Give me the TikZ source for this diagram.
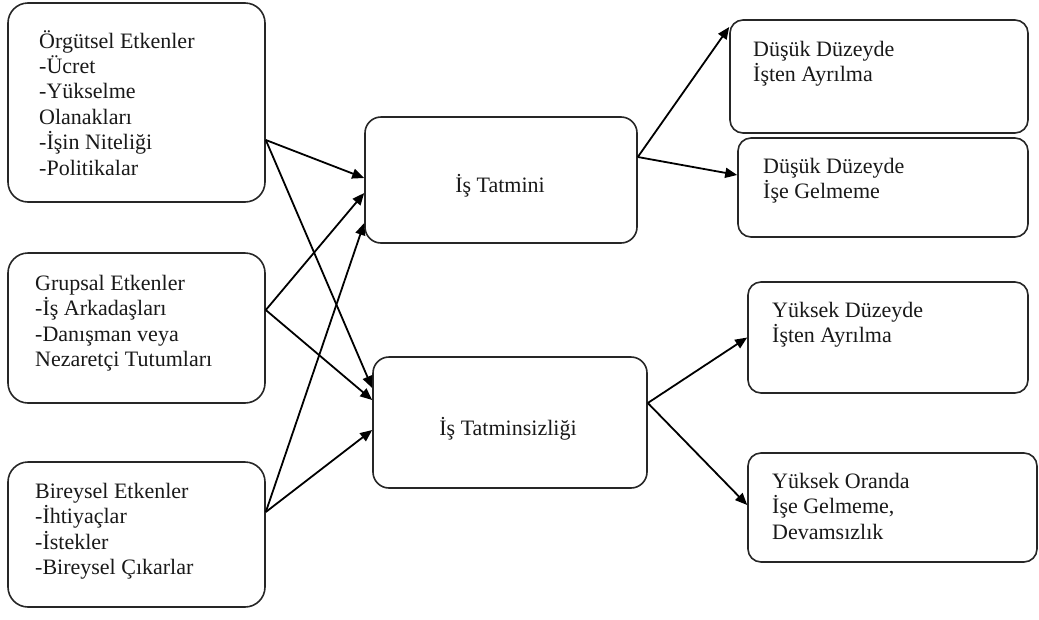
\documentclass[tikz,border=0pt]{standalone}
\usepackage{fontspec}
\setmainfont{Liberation Serif}
\usetikzlibrary{arrows.meta}
\newcommand{\mylines}[1]{\begin{tabular}[t]{@{}l@{}}#1\end{tabular}}
\begin{document}
\begin{tikzpicture}[x=1pt,y=-1pt,
  box/.style={draw=black!85, line width=1.6pt, rounded corners=#1, inner sep=0pt, fill=white},
  lbl/.style={anchor=base west, inner sep=0pt, text=black!90, font=\fontsize{22}{25.3}\selectfont},
  clbl/.style={anchor=base, inner sep=0pt, text=black!90, font=\fontsize{22}{25.3}\selectfont},
  arr/.style={draw=black, line width=1.8pt, -{Triangle[length=12pt,width=10pt]}}]
\useasboundingbox (0,0) rectangle (1039,619);
% left boxes
\node[box=20pt, minimum width=257pt, minimum height=199pt] (A) at (136.5,102.5) {};
\node[box=20pt, minimum width=257pt, minimum height=150pt] (B) at (136.5,328) {};
\node[box=20pt, minimum width=257pt, minimum height=145pt] (C) at (136.5,534.5) {};
% middle boxes
\node[box=16pt, minimum width=272pt, minimum height=126pt] (D) at (501,180) {};
\node[box=16pt, minimum width=274pt, minimum height=131pt] (E) at (510,422.5) {};
% right boxes
\node[box=13pt, minimum width=298pt, minimum height=113pt] (F) at (879,76.5) {};
\node[box=13pt, minimum width=290pt, minimum height=99pt] (G) at (883,187.5) {};
\node[box=13pt, minimum width=280pt, minimum height=111pt] (H) at (888,337.5) {};
\node[box=13pt, minimum width=289pt, minimum height=109pt] (I) at (892.5,507.5) {};
% texts
\node[lbl] (tA) at (39,48) {\mylines{Örgütsel Etkenler\\-Ücret\\-Yükselme\\Olanakları\\-İşin Niteliği\\-Politikalar}};
\node[lbl] (tB) at (35,290) {\mylines{Grupsal Etkenler\\-İş Arkadaşları\\-Danışman veya\\Nezaretçi Tutumları}};
\node[lbl] (tC) at (35,498) {\mylines{Bireysel Etkenler\\-İhtiyaçlar\\-İstekler\\-Bireysel Çıkarlar}};
\node[clbl] (tD) at (500,192) {İş Tatmini};
\node[clbl] (tE) at (508,435) {İş Tatminsizliği};
\node[lbl] (tF) at (753,56) {\mylines{Düşük Düzeyde\\İşten Ayrılma}};
\node[lbl] (tG) at (763,173) {\mylines{Düşük Düzeyde\\İşe Gelmeme}};
\node[lbl] (tH) at (772,317) {\mylines{Yüksek Düzeyde\\İşten Ayrılma}};
\node[lbl] (tI) at (772,488) {\mylines{Yüksek Oranda\\İşe Gelmeme,\\Devamsızlık}};
% arrows left -> middle
\draw[arr] ([yshift=-37.5pt]A.east) -- ([yshift=2pt]D.west);
\draw[arr] ([yshift=-37.5pt]A.east) -- ([yshift=34.5pt]E.west);
\draw[arr] ([yshift=18pt]B.east) -- ([yshift=-13pt]D.west);
\draw[arr] ([yshift=18pt]B.east) -- ([yshift=22.5pt]E.west);
\draw[arr] ([yshift=22.5pt]C.east) -- ([yshift=-43pt]D.west);
\draw[arr] ([yshift=22.5pt]C.east) -- ([yshift=-7.5pt]E.west);
% arrows middle -> right
\draw[arr] ([yshift=23pt]D.east) -- ([yshift=49.5pt]F.west);
\draw[arr] ([yshift=23pt]D.east) -- ([yshift=12.5pt]G.west);
\draw[arr] ([yshift=19.5pt]E.east) -- (H.west);
\draw[arr] ([yshift=19.5pt]E.east) -- ([yshift=2.5pt]I.west);
\end{tikzpicture}
\end{document}
